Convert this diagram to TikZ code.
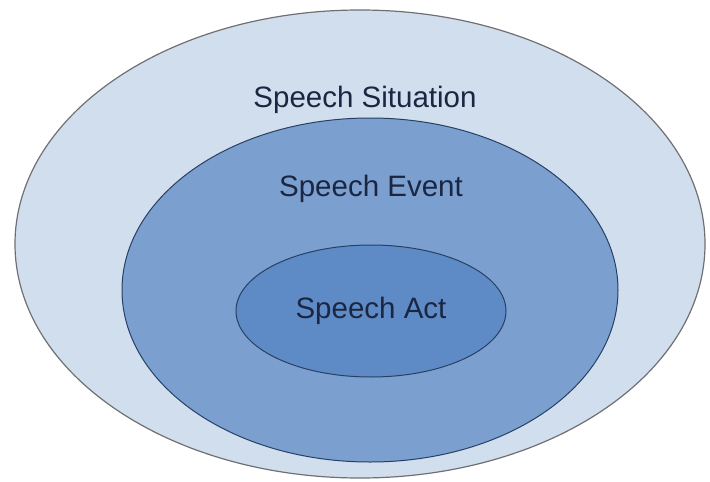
\documentclass[tikz,border=0pt]{standalone}
\usepackage{fontspec}
\setmainfont{Liberation Sans}
\usepackage{tikz}
\definecolor{situationfill}{RGB}{208,222,238}
\definecolor{eventfill}{RGB}{123,160,208}
\definecolor{actfill}{RGB}{94,139,198}
\definecolor{rimgray}{RGB}{112,112,116}
\definecolor{rimblue}{RGB}{40,64,100}
\definecolor{labeltext}{RGB}{26,38,66}

\begin{document}
\begin{tikzpicture}[x=1pt,y=-1pt,
    label/.style={font=\fontsize{29.5}{34}\selectfont, text=labeltext, inner sep=0pt}]
     \useasboundingbox (0,0) rectangle (710,482);
     \coordinate (OUT) at (360,244);
     \coordinate (MID) at (370,290);
     \coordinate (INN) at (371,311);
      \filldraw [fill=situationfill, draw=rimgray, line width=1.2pt] (OUT) ellipse [x radius=345, y radius=234];
      \filldraw [fill=eventfill, draw=rimblue, line width=1pt] (MID) ellipse [x radius=248, y radius=172];
      \filldraw [fill=actfill, draw=rimblue, line width=1pt] (INN) ellipse [x radius=135, y radius=66];
      \node[label] (situation) at (365,100) {Speech Situation};
      \node[label] (event) at (371,189) {Speech Event};
      \node[label] (act) at (371,311) {Speech Act};
\end{tikzpicture}
\end{document}
